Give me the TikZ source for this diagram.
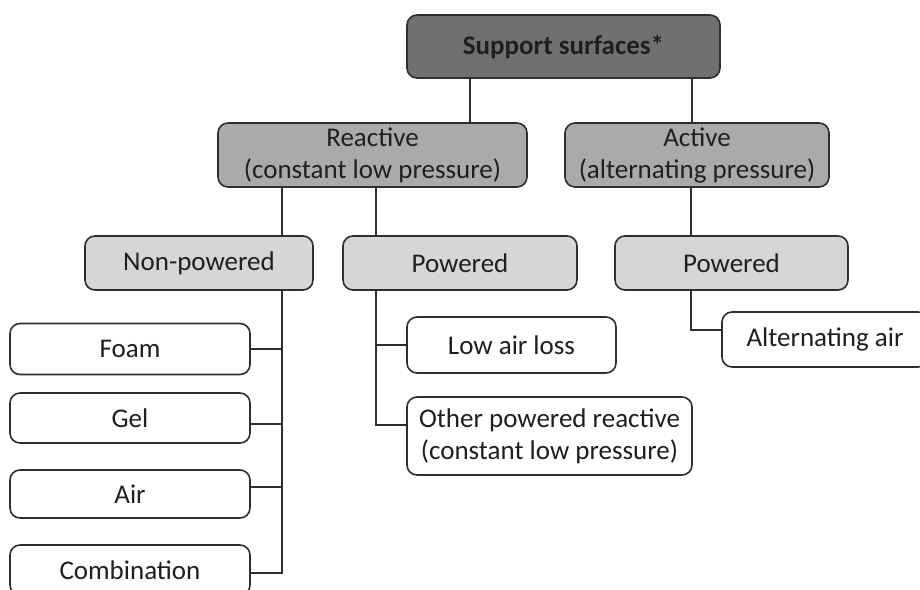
\documentclass[tikz,border=0pt]{standalone}
\usepackage{fontspec}
\setmainfont{Carlito}
\usepackage{tikz}
\usepackage{xcolor}
\definecolor{darkfill}{HTML}{707070}
\definecolor{midfill}{HTML}{AAAAAA}
\definecolor{lightfill}{HTML}{D6D6D6}
\definecolor{edge}{HTML}{2E2E2E}

\begin{document}
\begin{tikzpicture}[x=1pt, y=-1pt,
		box/.style={draw=edge, line width=1.6pt, rounded corners=10pt, align=center, inner sep=0pt, text=black!88, font=\fontsize{27}{32}\selectfont},
		rootbox/.style={box, fill=darkfill, font=\fontsize{27}{32}\selectfont\bfseries},
		groupbox/.style={box, fill=midfill},
		kindbox/.style={box, fill=lightfill},
		leafbox/.style={box, fill=white},
		link/.style={draw=edge, line width=1.6pt}]
				\useasboundingbox (0, 0) rectangle (920, 589);
				\node[rootbox, minimum width=313, minimum height=63] (root) at (563.5, 46.5) {Support surfaces*};
				\node[groupbox, minimum width=309, minimum height=64] (reactive) at (372.5, 155) {Reactive\\(constant low pressure)};
				\node[groupbox, minimum width=264, minimum height=64] (active) at (697, 155) {Active\\(alternating pressure)};
				\node[kindbox, minimum width=228, minimum height=54] (nonpowered) at (199, 263) {Non-powered};
				\node[kindbox, minimum width=234, minimum height=54] (powreactive) at (460, 263) {Powered};
				\node[kindbox, minimum width=233, minimum height=54] (powactive) at (731.5, 263) {Powered};
				\node[leafbox, minimum width=240, minimum height=51] (foam) at (130, 349) {Foam};
				\node[leafbox, minimum width=240, minimum height=50] (gel) at (130, 418) {Gel};
				\node[leafbox, minimum width=240, minimum height=48] (air) at (130, 494) {Air};
				\node[leafbox, minimum width=240, minimum height=50] (combination) at (130, 570) {Combination};
				\node[leafbox, minimum width=209, minimum height=56] (lowairloss) at (511.5, 345) {Low air loss};
				\node[leafbox, minimum width=285, minimum height=78] (otherpowered) at (549.5, 436) {Other powered reactive\\(constant low pressure)};
				\node[leafbox, minimum width=206, minimum height=55] (altair) at (825, 339.5) {Alternating air};
				\coordinate (rootleft) at ([xshift=97.5pt]reactive.north);
				\coordinate (rootright) at ([xshift=-5pt]active.north);
				\draw[link] (rootleft) -- (rootleft |- root.south);
				\draw[link] (rootright) -- (rootright |- root.south);
				\coordinate (nptrunk) at ([xshift=-90.5pt]reactive.south);
				\coordinate (gelend) at ([yshift=-6pt]gel.east);
				\coordinate (airend) at ([yshift=7pt]air.east);
				\coordinate (combend) at ([yshift=-3pt]combination.east);
				\draw[link] (nptrunk) -- (nptrunk |- nonpowered.north);
				\draw[link] (nptrunk |- nonpowered.south) -- (nptrunk |- combend) -- (combend);
				\draw[link] (nptrunk |- foam.east) -- (foam.east);
				\draw[link] (nptrunk |- gelend) -- (gelend);
				\draw[link] (nptrunk |- airend) -- (airend);
				\coordinate (prtrunk) at ([xshift=3.5pt]reactive.south);
				\coordinate (otherend) at ([yshift=11pt]otherpowered.west);
				\draw[link] (prtrunk) -- (prtrunk |- powreactive.north);
				\draw[link] (prtrunk |- powreactive.south) -- (prtrunk |- otherend) -- (otherend);
				\draw[link] (prtrunk |- lowairloss.west) -- (lowairloss.west);
				\coordinate (patrunk) at ([xshift=-6pt]active.south);
				\coordinate (altend) at ([yshift=9.5pt]altair.west);
				\draw[link] (patrunk) -- (patrunk |- powactive.north);
				\draw[link] (patrunk |- powactive.south) |- (altend);
			\end{tikzpicture}
\end{document}
